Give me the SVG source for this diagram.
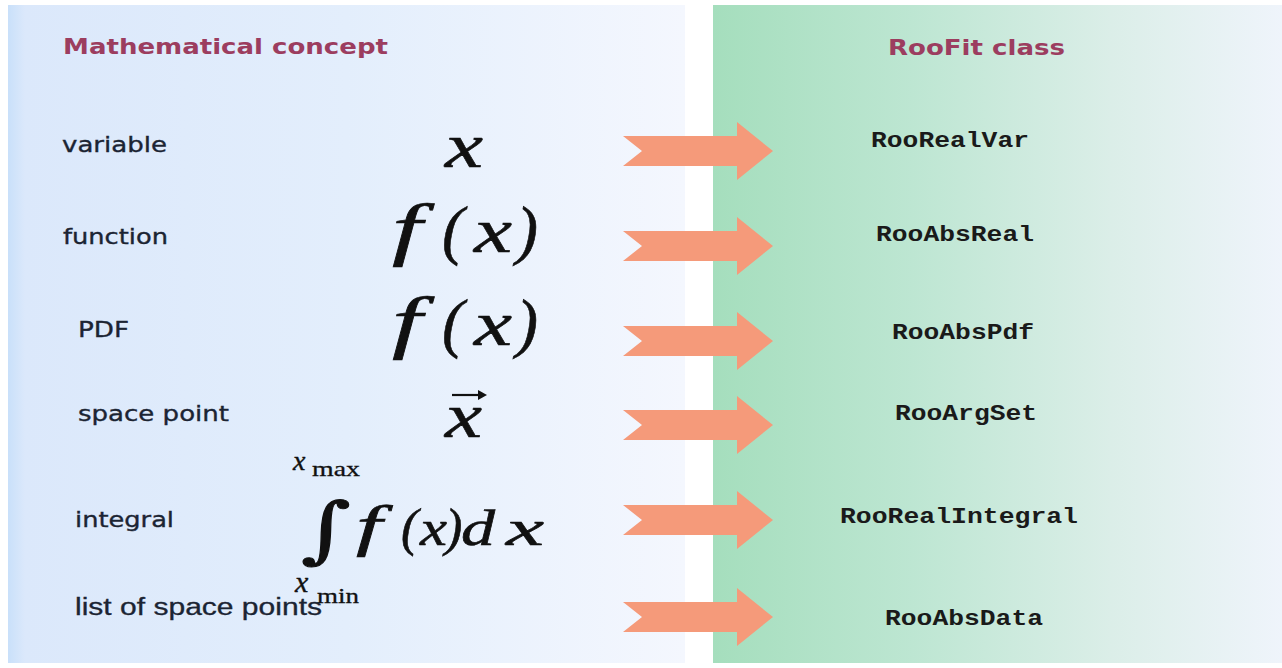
<svg xmlns="http://www.w3.org/2000/svg" width="1282" height="668" viewBox="0 0 1282 668">
<defs>
<linearGradient id="gl" x1="0" y1="0" x2="1" y2="0">
<stop offset="0" stop-color="#c9e0fa"/>
<stop offset="0.025" stop-color="#dbe8fb"/>
<stop offset="0.5" stop-color="#e3eefc"/>
<stop offset="1" stop-color="#f4f7fe"/>
</linearGradient>
<linearGradient id="gr" x1="0" y1="0" x2="1" y2="0">
<stop offset="0" stop-color="#a5debd"/>
<stop offset="0.35" stop-color="#bde6d2"/>
<stop offset="0.7" stop-color="#dbeee8"/>
<stop offset="1" stop-color="#eff4fb"/>
</linearGradient>
<path id="arr" d="M623,-15 L737,-15 L737,-29 L773,0 L737,29 L737,15 L623,15 L642,0 Z"/>
</defs>
<style>
.lbl{font-family:"DejaVu Sans",Verdana,sans-serif;font-size:21px;fill:#1b2433;stroke:#1b2433;stroke-width:0.35px}
.ttl{font-family:"DejaVu Sans",Verdana,sans-serif;font-size:21px;font-weight:bold;fill:#9c3d5f}
.cls{font-family:"Liberation Mono","Courier New",monospace;font-size:22px;font-weight:bold;fill:#1a1a1a}
.m{font-family:"Liberation Serif","Times New Roman",serif;font-style:italic;fill:#111;stroke:#111;stroke-width:0.6px}
.ms{font-family:"Liberation Serif","Times New Roman",serif;font-style:italic;fill:#111;stroke:#111;stroke-width:0.4px}
.mu{font-family:"Liberation Serif","Times New Roman",serif;fill:#111;stroke:#111;stroke-width:0.3px}
.a{fill:#f59a7a}
</style>
<rect x="0" y="0" width="1282" height="668" fill="#ffffff"/>
<rect x="8" y="5" width="677" height="658" fill="url(#gl)"/>
<rect x="713" y="5" width="569" height="658" fill="url(#gr)"/>

<g id="headers">
<text class="ttl" x="63" y="54" textLength="325" lengthAdjust="spacingAndGlyphs">Mathematical concept</text>
<text class="ttl" x="888" y="55" textLength="177" lengthAdjust="spacingAndGlyphs">RooFit class</text>
</g>

<g id="connectors">
<use href="#arr" class="a" transform="translate(0,151)"/>
<use href="#arr" class="a" transform="translate(0,246)"/>
<use href="#arr" class="a" transform="translate(0,341)"/>
<use href="#arr" class="a" transform="translate(0,425)"/>
<use href="#arr" class="a" transform="translate(0,520)"/>
<use href="#arr" class="a" transform="translate(0,617)"/>
</g>

<g id="row-variable">
<text class="lbl" x="62" y="152" textLength="105" lengthAdjust="spacingAndGlyphs">variable</text>
<text class="m" x="445" y="167" font-size="64" textLength="38" lengthAdjust="spacingAndGlyphs">x</text>
<text class="cls" x="871" y="147" textLength="158" lengthAdjust="spacingAndGlyphs">RooRealVar</text>
</g>

<g id="row-function">
<text class="lbl" x="63" y="244" textLength="105" lengthAdjust="spacingAndGlyphs">function</text>
<text class="m" x="392" y="252" font-size="70" textLength="30" lengthAdjust="spacingAndGlyphs">f</text>
<text class="m" x="442" y="252" font-size="66">(</text>
<text class="m" x="474" y="252" font-size="64" textLength="38" lengthAdjust="spacingAndGlyphs">x</text>
<text class="m" x="516" y="252" font-size="66">)</text>
<text class="cls" x="876" y="241" textLength="158" lengthAdjust="spacingAndGlyphs">RooAbsReal</text>
</g>

<g id="row-pdf">
<text class="lbl" x="78" y="337" textLength="51" lengthAdjust="spacingAndGlyphs">PDF</text>
<text class="m" x="392" y="345" font-size="70" textLength="30" lengthAdjust="spacingAndGlyphs">f</text>
<text class="m" x="442" y="345" font-size="66">(</text>
<text class="m" x="474" y="345" font-size="64" textLength="38" lengthAdjust="spacingAndGlyphs">x</text>
<text class="m" x="516" y="345" font-size="66">)</text>
<text class="cls" x="892" y="339" textLength="142" lengthAdjust="spacingAndGlyphs">RooAbsPdf</text>
</g>

<g id="row-spacepoint">
<text class="lbl" x="78" y="421" textLength="151" lengthAdjust="spacingAndGlyphs">space point</text>
<text class="m" x="445" y="437" font-size="64" textLength="37" lengthAdjust="spacingAndGlyphs">x</text>
<path d="M452,395 L480,395" stroke="#111" stroke-width="2.2" fill="none"/>
<path d="M478,390 L487,395 L478,400 Z" fill="#111"/>
<text class="cls" x="895" y="420" textLength="142" lengthAdjust="spacingAndGlyphs">RooArgSet</text>
</g>

<g id="row-integral">
<text class="lbl" x="75" y="527" textLength="99" lengthAdjust="spacingAndGlyphs">integral</text>
<text class="ms" x="293" y="470" font-size="28">x</text>
<text class="mu" x="312" y="476" font-size="21" textLength="48" lengthAdjust="spacingAndGlyphs">max</text>
<text x="301" y="554" font-family="'DejaVu Serif',serif" font-size="72" fill="#111" stroke="#111" stroke-width="1" textLength="50" lengthAdjust="spacingAndGlyphs">∫</text>
<text class="m" x="356" y="545" font-size="56" textLength="26" lengthAdjust="spacingAndGlyphs">f</text>
<text class="m" x="401" y="545" font-size="52">(</text>
<text class="m" x="420" y="545" font-size="50" textLength="27" lengthAdjust="spacingAndGlyphs">x</text>
<text class="m" x="445" y="545" font-size="52">)</text>
<text class="m" x="461" y="545" font-size="50" textLength="34" lengthAdjust="spacingAndGlyphs">d</text>
<text class="m" x="506" y="545" font-size="50" textLength="38" lengthAdjust="spacingAndGlyphs">x</text>
<text class="ms" x="295" y="592" font-size="30">x</text>
<text class="mu" x="317" y="603" font-size="21" textLength="42" lengthAdjust="spacingAndGlyphs">min</text>
<text class="cls" x="840" y="523" textLength="238" lengthAdjust="spacingAndGlyphs">RooRealIntegral</text>
</g>

<g id="row-data">
<text x="75" y="615" font-family="'Liberation Sans',Arial,sans-serif" font-size="23" fill="#1b2433" stroke="#1b2433" stroke-width="0.3" textLength="247" lengthAdjust="spacingAndGlyphs">list of space points</text>
<text class="cls" x="885" y="625" textLength="158" lengthAdjust="spacingAndGlyphs">RooAbsData</text>
</g>
</svg>
